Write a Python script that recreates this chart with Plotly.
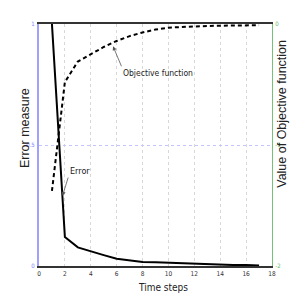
import plotly.graph_objects as go

time_steps = list(range(1, 18))
error_measure = [1.0, 0.12, 0.077, 0.06, 0.045, 0.03, 0.022, 0.017, 0.016,
                 0.014, 0.01, 0.008, 0.007, 0.006, 0.004, 0.004, 0.002]
objective_value = [-1.38, -0.48, -0.31, -0.25, -0.19, -0.14, -0.10, -0.07, -0.046,
                   -0.03, -0.024, -0.02, -0.016, -0.014, -0.012, -0.01, -0.01]
x_ticks = list(range(0, 19, 2))
left_ticks = [0, 0.5, 1]
left_tick_text = ["0", "0.5", "1"]
right_ticks = [-2, -1, 0]
right_tick_text = ["-2", "-1", "0"]

NARROW = "Liberation Sans Narrow, DejaVu Sans Condensed, Liberation Sans, Arial, sans-serif"
SANS = "Liberation Sans, Arial, Helvetica, sans-serif"

fig = go.Figure()
fig.add_trace(go.Scatter(x=time_steps, y=error_measure, mode="lines",
                         line=dict(color="black", width=2), yaxis="y",
                         showlegend=False))
fig.add_trace(go.Scatter(x=time_steps, y=objective_value, mode="lines",
                         line=dict(color="black", width=2, dash="4px,3px"),
                         yaxis="y2", showlegend=False))

fig.update_layout(
    width=292, height=292,
    margin=dict(l=31, r=28, t=14, b=34),
    paper_bgcolor="white", plot_bgcolor="white",
    xaxis=dict(range=[0, 18], tickvals=x_ticks, ticktext=[str(v) for v in x_ticks],
               showline=True, linecolor="#333333", linewidth=1.5, mirror=True,
               showgrid=True, gridcolor="#d8d8d8", griddash="dot", gridwidth=1,
               zeroline=False, tickfont=dict(family=NARROW, size=6.5, color="#333333"),
               ticks=""),
    yaxis=dict(range=[0, 1], tickvals=left_ticks, ticktext=left_tick_text,
               showline=True, linecolor="#a0a0ff", linewidth=2,
               showgrid=True, gridcolor="#c4c4ff", griddash="dot", gridwidth=1,
               zeroline=False, tickfont=dict(family=NARROW, size=6, color="#8080ff"),
               ticks="", ticklabelstandoff=1),
    yaxis2=dict(range=[-2, 0], tickvals=right_ticks, ticktext=right_tick_text,
                overlaying="y", side="right",
                showline=True, linecolor="#77c077", linewidth=1,
                showgrid=False, zeroline=False,
                tickfont=dict(family=NARROW, size=6, color="#66bb66"),
                ticks="", ticklabelstandoff=1),
    annotations=[
        dict(x=5.72, y=0.908, xref="x", yref="y", text="Objective function",
             showarrow=True, ax=8.4, ay=20, axref="pixel", ayref="pixel",
             xanchor="left", yanchor="top", arrowhead=2, arrowsize=1,
             arrowwidth=0.8, arrowcolor="#555555",
             font=dict(family=NARROW, size=8.5, color="#222222")),
        dict(x=1.82, y=0.29, xref="x", yref="y", text="Error",
             showarrow=True, ax=5.6, ay=-18.3, axref="pixel", ayref="pixel",
             xanchor="left", yanchor="bottom", arrowhead=2, arrowsize=1,
             arrowwidth=0.8, arrowcolor="#555555",
             font=dict(family=NARROW, size=9, color="#222222")),
        dict(x=-0.060, y=0.570, xref="paper", yref="paper", text="Error measure",
             showarrow=False, textangle=-90, xanchor="center", yanchor="middle",
             font=dict(family=SANS, size=12.5, color="#222222")),
        dict(x=1.045, y=0.631, xref="paper", yref="paper",
             text="Value of Objective function",
             showarrow=False, textangle=-90, xanchor="center", yanchor="middle",
             font=dict(family=SANS, size=12.5, color="#222222")),
        dict(x=0.532, y=-0.090, xref="paper", yref="paper", text="Time steps",
             showarrow=False, xanchor="center", yanchor="middle",
             font=dict(family=NARROW, size=10, color="#222222")),
    ],
)

fig.write_html("out.html")
